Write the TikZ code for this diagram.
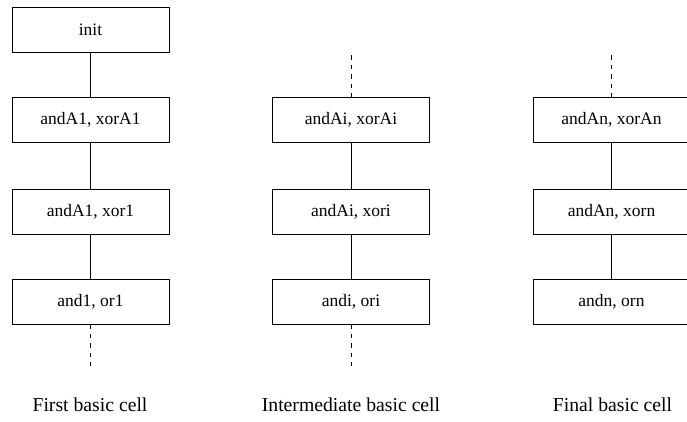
\documentclass[tikz,border=0pt]{standalone}
\usepackage{fontspec}
\setmainfont{Liberation Serif}
\usepackage{tikz}
\usetikzlibrary{
    positioning,    % 相对位置
    calc            % 坐标计算
}

\tikzset{
    cellbox/.style={draw, line width=0.9pt, minimum width=157pt, minimum height=45pt,
        inner sep=0pt, outer sep=0pt, font=\fontsize{17.5}{20}\selectfont},
    link/.style={line width=0.9pt},
    open/.style={line width=0.9pt, dash pattern=on 4.5pt off 5pt},
    celllabel/.style={anchor=base, font=\fontsize{19.7}{23}\selectfont}
}

\begin{document}
\begin{tikzpicture}[x=1pt, y=1pt]
    \useasboundingbox (0,0) rectangle (687,-421);

    % 第一个基本单元
    \node[cellbox] (init)  at (90.5,-29.5)  {init};
    \node[cellbox] (fA)    at (90.5,-119.5) {andA1, xorA1};
    \node[cellbox] (fB)    at (90.5,-211.5) {andA1, xor1};
    \node[cellbox] (fC)    at (90.5,-301.5) {and1, or1};
    \coordinate (fEnd) at (90.5,-366);
    \draw[link] (init) -- (fA);
    \draw[link] (fA) -- (fB);
    \draw[link] (fB) -- (fC);
    \draw[open] (fC) -- (fEnd);

    % 中间基本单元
    \coordinate (mTop) at (351,-55);
    \node[cellbox] (mA)    at (351,-119.5) {andAi, xorAi};
    \node[cellbox] (mB)    at (351,-211.5) {andAi, xori};
    \node[cellbox] (mC)    at (351,-301.5) {andi, ori};
    \coordinate (mEnd) at (351,-366);
    \draw[open] (mTop) -- (mA);
    \draw[link] (mA) -- (mB);
    \draw[link] (mB) -- (mC);
    \draw[open] (mC) -- (mEnd);

    % 最后基本单元
    \coordinate (nTop) at (611.5,-55);
    \node[cellbox] (nA)    at (611.5,-119.5) {andAn, xorAn};
    \node[cellbox] (nB)    at (611.5,-211.5) {andAn, xorn};
    \node[cellbox] (nC)    at (611.5,-301.5) {andn, orn};
    \draw[open] (nTop) -- (nA);
    \draw[link] (nA) -- (nB);
    \draw[link] (nB) -- (nC);

    % 标题
    \node[celllabel] (firstLbl) at (90,-411) {First basic cell};
    \node[celllabel] (midLbl)   at (351,-411)  {Intermediate basic cell};
    \node[celllabel] (finalLbl) at (612.5,-411) {Final basic cell};
\end{tikzpicture}
\end{document}
